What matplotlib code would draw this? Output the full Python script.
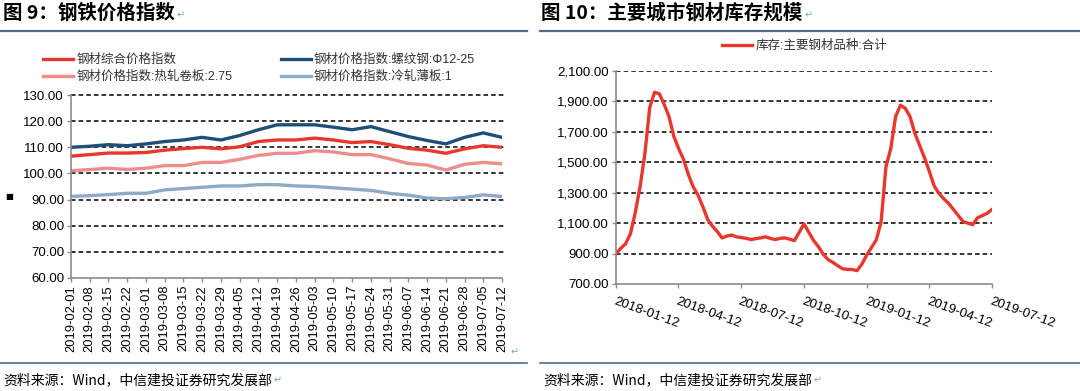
import matplotlib
matplotlib.use("Agg")
import matplotlib.pyplot as plt
import pandas as pd

plt.rcParams['font.family'] = ['Liberation Sans', 'Noto Sans CJK SC', 'DejaVu Sans']

# ---- 图9 data ----
dates9 = ['2019-02-01', '2019-02-08', '2019-02-15', '2019-02-22', '2019-03-01', '2019-03-08',
          '2019-03-15', '2019-03-22', '2019-03-29', '2019-04-05', '2019-04-12', '2019-04-19',
          '2019-04-26', '2019-05-03', '2019-05-10', '2019-05-17', '2019-05-24', '2019-05-31',
          '2019-06-07', '2019-06-14', '2019-06-21', '2019-06-28', '2019-07-05', '2019-07-12']
steel_all = [106.6, 107.2, 107.8, 107.8, 108.0, 108.9, 109.5, 110.0, 109.4, 110.2, 112.2, 112.8,
             112.8, 113.5, 112.8, 111.8, 112.2, 111.0, 109.6, 108.9, 107.7, 109.4, 110.6, 110.0]
rebar = [110.0, 110.4, 111.0, 110.6, 111.3, 112.2, 112.8, 113.8, 112.8, 114.5, 116.7, 118.6,
         118.6, 118.6, 117.7, 116.7, 117.9, 116.0, 114.1, 112.6, 111.3, 113.8, 115.5, 113.8]
hot_coil = [101.0, 101.5, 102.0, 101.5, 102.0, 103.0, 103.0, 104.2, 104.2, 105.4, 106.9, 107.7,
            107.7, 108.7, 108.2, 107.2, 107.2, 105.6, 103.8, 103.2, 101.3, 103.5, 104.2, 103.7]
cold_sheet = [91.2, 91.5, 91.9, 92.4, 92.4, 93.7, 94.2, 94.7, 95.2, 95.2, 95.7, 95.7,
              95.2, 95.0, 94.5, 94.0, 93.5, 92.4, 91.7, 90.6, 90.3, 90.8, 91.8, 91.2]
names9 = ['钢材综合价格指数', '钢材价格指数:螺纹钢:Φ12-25',
          '钢材价格指数:热轧卷板:2.75', '钢材价格指数:冷轧薄板:1']

# ---- 图10 data ----
start10 = '2018-01-12'
stock = [900, 935, 965, 1030, 1170, 1340, 1560, 1860, 1960, 1950,
         1880, 1800, 1670, 1590, 1520, 1420, 1340, 1285, 1210, 1125,
         1080, 1045, 1003, 1015, 1022, 1010, 1005, 1000, 992, 998,
         1003, 1010, 1000, 992, 1000, 1003, 995, 985, 1040, 1095,
         1040, 985, 945, 895, 860, 842, 820, 800, 796, 795,
         788, 830, 890, 940, 990, 1110, 1470, 1590, 1800, 1875,
         1855, 1800, 1690, 1610, 1530, 1440, 1345, 1295, 1260, 1230,
         1190, 1150, 1110, 1100, 1090, 1135, 1150, 1165, 1190]
ticks10 = ['2018-01-12', '2018-04-12', '2018-07-12', '2018-10-12',
           '2019-01-12', '2019-04-12', '2019-07-12']
name10 = '库存:主要钢材品种:合计'

source = '资料来源：Wind，中信建投证券研究发展部'

W, H = 1080, 391
fig = plt.figure(figsize=(W / 100, H / 100), dpi=100)
fig.patch.set_facecolor('white')

def fx(px):
    return px / W

def fy(py):
    return 1 - py / H

frame_col = '#4f6f8f'
mark_col = '#6fa8dc'
cjk = ['Noto Sans CJK SC', 'DejaVu Sans']
renderer = fig.canvas.get_renderer()

def mark_after(t, dy=0):
    # small paragraph mark right after a text
    bb = t.get_window_extent(renderer)
    fig.text(bb.x1 / W + fx(2), fy(H - (bb.y0 + bb.y1) / 2 + dy), '↵', fontsize=7,
             color=mark_col, va='center', ha='left', family=['DejaVu Sans'])

# titles, rules and sources
t = fig.text(fx(3), fy(13), '图 9：钢铁价格指数', fontsize=14, fontweight='bold',
             va='center', ha='left', family=cjk)
mark_after(t, 2)
t = fig.text(fx(541), fy(13), '图 10：主要城市钢材库存规模', fontsize=14, fontweight='bold',
             va='center', ha='left', family=cjk)
mark_after(t, 2)
for x0, x1 in [(0, 527), (540, 1080)]:
    fig.add_artist(plt.Line2D([fx(x0), fx(x1)], [fy(31), fy(31)], color=frame_col, lw=1.6))
    fig.add_artist(plt.Line2D([fx(x0), fx(x1)], [fy(363), fy(363)], color=frame_col, lw=1.2))
    t = fig.text(fx(x0 + 3), fy(380), source, fontsize=10, va='center', ha='left',
                 style='italic', family=cjk)
    mark_after(t)
fig.text(fx(511), fy(352), '↵', fontsize=7, color=mark_col, va='center', family=['DejaVu Sans'])
fig.text(fx(5), fy(197), '■', fontsize=6, va='center', family=['DejaVu Sans'])

# ---------- left chart ----------
ax1 = fig.add_axes([fx(71), fy(278), fx(502) - fx(71), fy(95) - fy(278)])
xs = list(range(len(dates9)))
l1, = ax1.plot(xs, steel_all, color='#e8372c', lw=2.4, label=names9[0])
l2, = ax1.plot(xs, rebar, color='#1f4e79', lw=2.4, label=names9[1])
l3, = ax1.plot(xs, hot_coil, color='#f08c8c', lw=2.4, label=names9[2])
l4, = ax1.plot(xs, cold_sheet, color='#8eaac4', lw=2.4, label=names9[3])
ax1.set_xlim(0, len(dates9) - 1)
ax1.set_ylim(60, 130)
ax1.set_yticks(range(60, 131, 10))
ax1.set_yticklabels(['%.2f' % v for v in range(60, 131, 10)], fontsize=9.5)
ax1.set_xticks(xs)
ax1.set_xticklabels(dates9, rotation=90, fontsize=9.3)
for v in range(70, 131, 10):
    ax1.plot([0, len(dates9) - 1 + 0.15], [v, v], color='black', lw=1.1,
             ls=(0, (3, 2)), zorder=0, clip_on=False)
for s in ['top', 'right']:
    ax1.spines[s].set_visible(False)
for s in ['left', 'bottom']:
    ax1.spines[s].set_color('#8c8c8c')
    ax1.spines[s].set_linewidth(1.2)
ax1.tick_params(axis='both', color='#8c8c8c', length=3, width=1, pad=2)
ax1.legend([l1, l3, l2, l4], [names9[0], names9[2], names9[1], names9[3]],
           ncol=2, loc='upper left', bbox_to_anchor=(fx(43), fy(54)),
           bbox_transform=fig.transFigure, frameon=False, fontsize=9,
           handlelength=2.4, handletextpad=0.25, columnspacing=3.9,
           labelspacing=0.35, borderpad=0, borderaxespad=0, labelcolor='#333333')

# ---------- right chart ----------
ax2 = fig.add_axes([fx(616), fy(284), fx(992) - fx(616), fy(71) - fy(284)])
d10 = pd.date_range(start10, periods=len(stock), freq='7D')
ln, = ax2.plot(d10, stock, color='#e8372c', lw=2.4, label=name10)
ax2.set_xlim(d10[0], d10[-1])
ax2.set_ylim(700, 2100)
ax2.set_yticks(range(700, 2101, 200))
ax2.set_yticklabels(['{:,.2f}'.format(v) for v in range(700, 2101, 200)], fontsize=9.5)
tk = pd.to_datetime(ticks10)
ax2.set_xticks(tk)
ax2.set_xticklabels(ticks10, rotation=-20, ha='left', va='top',
                    rotation_mode='anchor', fontsize=9.5)
for v in range(900, 2101, 200):
    ax2.axhline(v, color='black', lw=1.1, ls=(0, (3, 2)), zorder=0)
for s in ['top', 'right']:
    ax2.spines[s].set_visible(False)
for s in ['left', 'bottom']:
    ax2.spines[s].set_color('#8c8c8c')
    ax2.spines[s].set_linewidth(1.2)
ax2.tick_params(axis='both', color='#8c8c8c', length=3, width=1, pad=2)
ax2.tick_params(axis='x', pad=5)
ax2.legend([ln], [name10], loc='upper left', bbox_to_anchor=(fx(722), fy(40)),
           bbox_transform=fig.transFigure, frameon=False, fontsize=9,
           handlelength=2.4, handletextpad=0.25, borderpad=0, borderaxespad=0,
           labelcolor='#333333')

fig.savefig('out.png', dpi=100)
